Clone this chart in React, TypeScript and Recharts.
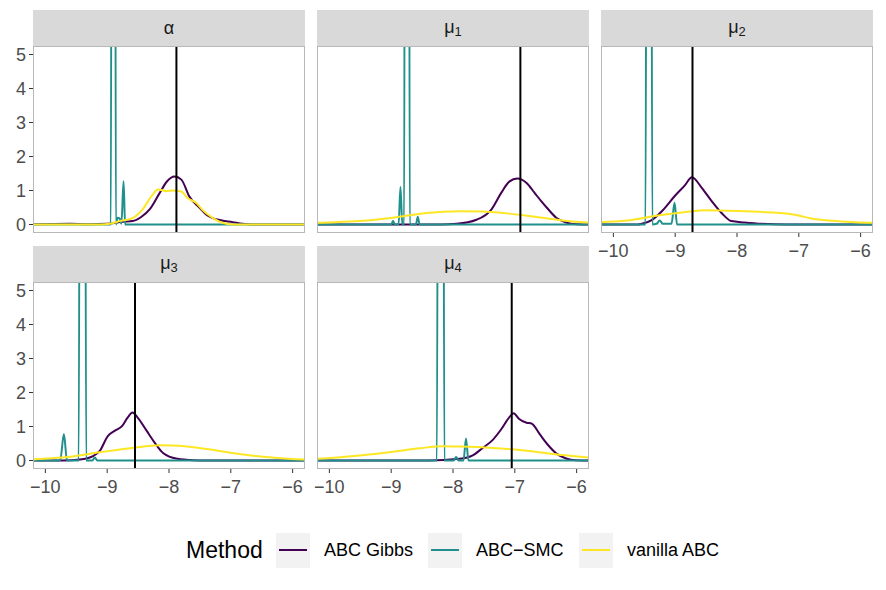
import React from 'react';
import { LineChart, Line, XAxis, YAxis, ReferenceLine } from 'recharts';

const FONT = '"Liberation Sans", Arial, Helvetica, sans-serif';

type Pt = { x: number; y: number };
const pts = (rows: number[][]): Pt[] => rows.map(([x, y]) => ({ x, y }));

// methods, in drawing order
const methods = ['ABC Gibbs', 'ABC\u2212SMC', 'vanilla ABC'];
const methodColors = ['#440154', '#21908C', '#FDE725'];

// facet labels and the true parameter values (vertical lines)
const facetNames = ['alpha', 'mu1', 'mu2', 'mu3', 'mu4'];
const trueValues = [-7.88, -6.91, -8.72, -8.55, -7.05];

const xTicks = [-10, -9, -8, -7, -6];
const yTicks = [0, 1, 2, 3, 4, 5];

// posterior densities: alpha
const alphaGibbs = pts([
  [-10.3, 0], [-9.6, 0.02], [-9.3, 0.01], [-9.0, 0.02], [-8.75, 0.08], [-8.59, 0.1],
  [-8.45, 0.22], [-8.31, 0.45], [-8.15, 0.93], [-8.04, 1.25], [-7.91, 1.41], [-7.8, 1.32],
  [-7.67, 0.82], [-7.51, 0.5], [-7.39, 0.28], [-7.18, 0.13], [-6.97, 0.07], [-6.81, 0.02],
  [-6.65, 0], [-5.7, 0],
]);
const alphaSmc = pts([
  [-10.3, 0], [-8.94, 0], [-8.925, 20], [-8.875, 20], [-8.86, 0], [-8.83, 0.2], [-8.8, 0.18],
  [-8.77, 0.02], [-8.735, 1.27], [-8.71, 0], [-5.7, 0],
]);
const alphaVanilla = pts([
  [-10.3, 0], [-9.1, 0], [-8.96, 0.02], [-8.8, 0.1], [-8.59, 0.19], [-8.43, 0.44],
  [-8.28, 0.84], [-8.18, 1.03], [-8.04, 0.98], [-7.94, 1.0], [-7.8, 0.97], [-7.7, 0.78],
  [-7.55, 0.62], [-7.46, 0.43], [-7.3, 0.2], [-7.14, 0.05], [-6.97, 0], [-5.7, 0],
]);

// mu1
const mu1Gibbs = pts([
  [-10.3, 0], [-8.2, 0], [-7.94, 0.02], [-7.62, 0.14], [-7.38, 0.44], [-7.22, 0.93],
  [-7.09, 1.26], [-6.96, 1.35], [-6.81, 1.22], [-6.68, 0.93], [-6.57, 0.68], [-6.47, 0.47],
  [-6.33, 0.2], [-6.17, 0.06], [-6.0, 0.01], [-5.7, 0],
]);
const mu1Smc = pts([
  [-10.3, 0], [-9.0, 0], [-8.97, 0.1], [-8.94, 0], [-8.88, 0], [-8.85, 1.1], [-8.82, 0],
  [-8.79, 0], [-8.775, 20], [-8.715, 20], [-8.7, 0], [-8.6, 0], [-8.57, 0.23], [-8.54, 0],
  [-5.7, 0],
]);
const mu1Vanilla = pts([
  [-10.3, 0.04], [-10.2, 0.05], [-9.51, 0.1], [-8.97, 0.2], [-8.43, 0.34], [-7.89, 0.39],
  [-7.52, 0.38], [-7.09, 0.32], [-6.65, 0.22], [-6.23, 0.12], [-5.81, 0.06], [-5.7, 0.05],
]);

// mu2
const mu2Gibbs = pts([
  [-10.3, 0], [-9.6, 0], [-9.54, 0.02], [-9.38, 0.13], [-9.2, 0.42], [-9.01, 0.83],
  [-8.84, 1.16], [-8.73, 1.39], [-8.57, 1.08], [-8.41, 0.69], [-8.25, 0.34], [-8.09, 0.1],
  [-7.88, 0.06], [-7.6, 0.02], [-7.2, 0], [-5.7, 0],
]);
const mu2Smc = pts([
  [-10.3, 0], [-9.48, 0], [-9.455, 20], [-9.395, 20], [-9.37, 0], [-9.3, 0.02], [-9.25, 0.12],
  [-9.2, 0.02], [-9.06, 0.02], [-9.01, 0.64], [-8.97, 0], [-5.7, 0],
]);
const mu2Vanilla = pts([
  [-10.3, 0.06], [-10.2, 0.07], [-9.77, 0.12], [-9.33, 0.25], [-8.96, 0.34], [-8.68, 0.4],
  [-8.52, 0.42], [-7.99, 0.4], [-7.5, 0.36], [-7.07, 0.29], [-6.75, 0.16], [-6.31, 0.09],
  [-5.8, 0.05], [-5.7, 0.05],
]);

// mu3
const mu3Gibbs = pts([
  [-10.3, 0], [-9.72, 0], [-9.44, 0.03], [-9.23, 0.13], [-9.12, 0.28], [-8.99, 0.72],
  [-8.88, 0.87], [-8.76, 1.01], [-8.67, 1.26], [-8.59, 1.41], [-8.51, 1.27], [-8.36, 0.87],
  [-8.23, 0.52], [-8.12, 0.26], [-7.94, 0.08], [-7.72, 0.02], [-7.5, 0], [-5.7, 0],
]);
const mu3Smc = pts([
  [-10.3, 0], [-9.76, 0], [-9.7, 0.78], [-9.65, 0], [-9.46, 0], [-9.435, 20], [-9.365, 20],
  [-9.34, 0], [-9.24, 0], [-9.2, 0.09], [-9.16, 0], [-5.7, 0],
]);
const mu3Vanilla = pts([
  [-10.3, 0.02], [-10.22, 0.03], [-9.65, 0.1], [-9.12, 0.24], [-8.59, 0.37], [-8.15, 0.45],
  [-7.94, 0.44], [-7.51, 0.37], [-6.97, 0.22], [-6.43, 0.1], [-5.81, 0.03], [-5.7, 0.03],
]);

// mu4
const mu4Gibbs = pts([
  [-10.3, 0], [-8.4, 0], [-7.89, 0.05], [-7.68, 0.15], [-7.52, 0.37], [-7.36, 0.6],
  [-7.22, 0.92], [-7.09, 1.27], [-7.02, 1.39], [-6.93, 1.22], [-6.81, 1.11], [-6.73, 1.09],
  [-6.6, 0.78], [-6.47, 0.47], [-6.33, 0.21], [-6.17, 0.06], [-6.01, 0.01], [-5.7, 0],
]);
const mu4Smc = pts([
  [-10.3, 0], [-8.26, 0], [-8.235, 20], [-8.165, 20], [-8.14, 0], [-7.99, 0], [-7.95, 0.1],
  [-7.91, 0], [-7.83, 0], [-7.79, 0.65], [-7.75, 0], [-5.7, 0],
]);
const mu4Vanilla = pts([
  [-10.3, 0.04], [-10.2, 0.05], [-9.51, 0.15], [-8.97, 0.26], [-8.54, 0.36], [-8.16, 0.42],
  [-7.89, 0.41], [-7.36, 0.37], [-6.81, 0.29], [-6.28, 0.17], [-5.81, 0.09], [-5.7, 0.08],
]);

const facetSeries: Pt[][][] = [
  [alphaGibbs, alphaSmc, alphaVanilla],
  [mu1Gibbs, mu1Smc, mu1Vanilla],
  [mu2Gibbs, mu2Smc, mu2Vanilla],
  [mu3Gibbs, mu3Smc, mu3Vanilla],
  [mu4Gibbs, mu4Smc, mu4Vanilla],
];

const fmt = (v: number) => (v < 0 ? '\u2212' + Math.abs(v) : String(v));

function StripLabel({ name }: { name: string }) {
  if (name === 'alpha') return <span>α</span>;
  return (
    <span>
      μ<sub style={{ fontSize: '0.72em', verticalAlign: '-0.25em' }}>{name.slice(2)}</sub>
    </span>
  );
}

// panel geometry
const PW = 272;
const PH = 187;
const AXIS_W = 33;
const AXIS_H = 30;
const STRIP_H = 36;
const PAD = 12; // room around each svg so edge tick labels are not clipped
const colLeft = [33, 317, 601];
const rowTop = [46, 282];

interface PanelProps {
  idx: number;
  col: number;
  row: number;
  showX: boolean;
}

function Panel({ idx, col, row, showX }: PanelProps) {
  const showY = col === 0;
  const left = colLeft[col];
  const top = rowTop[row];
  const axisW = showY ? AXIS_W : 0;
  const w = PW + axisW + 2 * PAD;
  const h = PH + (showX ? AXIS_H : 0) + 2 * PAD;
  const tickStyle = { fill: '#4d4d4d', fontSize: 18, fontFamily: FONT };
  return (
    <>
      <div
        style={{
          position: 'absolute',
          left,
          top: top - STRIP_H,
          width: PW,
          height: STRIP_H,
          background: '#d9d9d9',
          color: '#1a1a1a',
          fontSize: 18,
          fontFamily: FONT,
          display: 'flex',
          alignItems: 'center',
          justifyContent: 'center',
        }}
      >
        <StripLabel name={facetNames[idx]} />
      </div>
      <div style={{ position: 'absolute', left: left - axisW - PAD, top: top - PAD }}>
        <LineChart width={w} height={h} margin={{ top: PAD, right: PAD, bottom: PAD, left: PAD }}>
          <XAxis
            type="number"
            dataKey="x"
            domain={[-10.2, -5.8]}
            allowDataOverflow
            ticks={xTicks}
            interval={0}
            tickFormatter={fmt}
            hide={!showX}
            height={AXIS_H}
            axisLine={false}
            tickSize={4}
            tickMargin={7}
            tickLine={{ stroke: '#333333' }}
            tick={tickStyle}
          />
          <YAxis
            type="number"
            dataKey="y"
            domain={[-0.25, 5.25]}
            allowDataOverflow
            ticks={yTicks}
            interval={0}
            hide={!showY}
            width={AXIS_W}
            axisLine={false}
            tickSize={4}
            tickMargin={3}
            tickLine={{ stroke: '#333333' }}
            tick={tickStyle}
          />
          {facetSeries[idx].map((d, i) => (
            <Line
              key={methods[i]}
              data={d}
              dataKey="y"
              type="monotone"
              stroke={methodColors[i]}
              strokeWidth={2}
              dot={false}
              activeDot={false}
              isAnimationActive={false}
            />
          ))}
          <ReferenceLine x={trueValues[idx]} stroke="#000000" strokeWidth={2} />
        </LineChart>
      </div>
      <div
        style={{
          position: 'absolute',
          left,
          top,
          width: PW,
          height: PH,
          boxSizing: 'border-box',
          border: '1px solid #b8b8b8',
          pointerEvents: 'none',
        }}
      />
    </>
  );
}

function LegendKey({ left, color, label }: { left: number; color: string; label: string }) {
  return (
    <>
      <div
        style={{
          position: 'absolute',
          left,
          top: 533,
          width: 34,
          height: 35,
          background: '#f2f2f2',
        }}
      >
        <div
          style={{
            position: 'absolute',
            left: 3,
            right: 3,
            top: 16,
            height: 2,
            background: color,
          }}
        />
      </div>
      <div
        style={{
          position: 'absolute',
          left: left + 48,
          top: 539,
          fontSize: 18,
          lineHeight: '22px',
          color: '#000000',
          fontFamily: FONT,
          whiteSpace: 'nowrap',
        }}
      >
        {label}
      </div>
    </>
  );
}

export default function App() {
  const legendLefts = [276, 428, 579];
  return (
    <div
      style={{
        position: 'absolute',
        left: 0,
        top: 0,
        width: 886,
        height: 590,
        background: '#ffffff',
        overflow: 'hidden',
      }}
    >
      <Panel idx={0} col={0} row={0} showX={false} />
      <Panel idx={1} col={1} row={0} showX={false} />
      <Panel idx={2} col={2} row={0} showX={true} />
      <Panel idx={3} col={0} row={1} showX={true} />
      <Panel idx={4} col={1} row={1} showX={true} />
      <div
        style={{
          position: 'absolute',
          left: 186,
          top: 536,
          fontSize: 23,
          lineHeight: '28px',
          color: '#000000',
          fontFamily: FONT,
        }}
      >
        Method
      </div>
      {methods.map((m, i) => (
        <LegendKey key={m} left={legendLefts[i]} color={methodColors[i]} label={m} />
      ))}
    </div>
  );
}
